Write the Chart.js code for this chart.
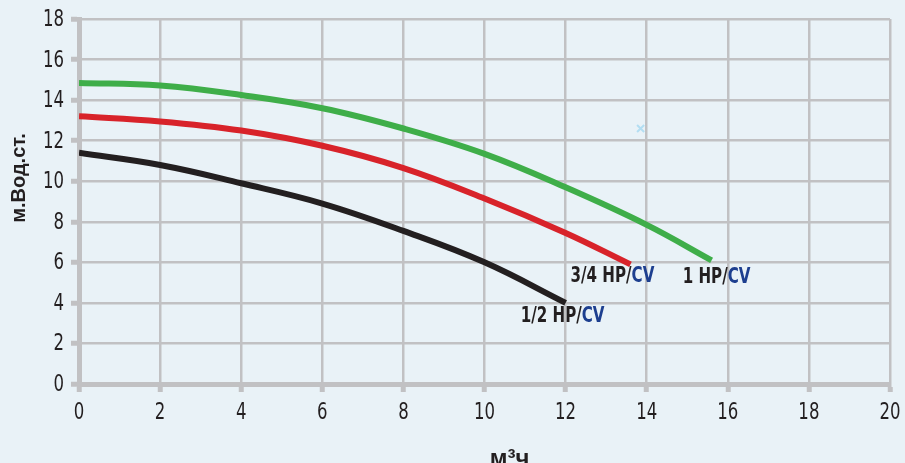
<!DOCTYPE html>
<html>
<head>
<meta charset="utf-8">
<script src="https://cdn.jsdelivr.net/npm/chart.js@4/dist/chart.umd.min.js"></script>
<style>
  html, body { margin: 0; padding: 0; background: #e9f2f7; }
  #wrap { width: 905px; height: 463px; }
</style>
</head>
<body>
<div id="wrap"><canvas id="pumpChart"></canvas></div>
<script>
// Pump curves: flow (m3/h) vs head (m water column)
const flowGreen = [0, 2, 4, 6, 8, 10, 12, 14, 15.6];
const headGreen = [14.85, 14.72, 14.25, 13.6, 12.6, 11.35, 9.7, 7.85, 6.1];

const flowRed = [0, 2, 4, 6, 8, 10, 12, 13.6];
const headRed = [13.2, 12.95, 12.5, 11.75, 10.65, 9.15, 7.45, 5.9];

const flowBlack = [0, 2, 4, 6, 8, 10, 12];
const headBlack = [11.4, 10.8, 9.9, 8.9, 7.55, 6.0, 4.0];

const markerPoint = [{ x: 13.85, y: 12.6 }];

const curveNames = ['1 HP/', '3/4 HP/', '1/2 HP/'];
const curveSuffix = 'CV';

const xTicks = [0, 2, 4, 6, 8, 10, 12, 14, 16, 18, 20];
const yTicks = [0, 2, 4, 6, 8, 10, 12, 14, 16, 18];

const xTitle = 'м³ч';
const yTitle = 'м.Вод.ст.';

const narrowFont = "'DejaVu Sans', sans-serif";
const gridGray = '#c1c1c3';
const textDark = '#231f20';
const squeeze = 0.72; // fake a condensed face

function toPoints(xs, ys) {
    return xs.map((x, i) => ({ x: x, y: ys[i] }));
}

function narrowText(ctx, text, x, y, align) {
    const w = ctx.measureText(text).width * squeeze;
    let left = x;
    if (align === 'center') left = x - w / 2;
    if (align === 'right') left = x - w;
    ctx.save();
    ctx.translate(left, y);
    ctx.scale(squeeze, 1);
    ctx.textAlign = 'left';
    ctx.fillText(text, 0, 0);
    ctx.restore();
    return w;
}

// tick labels, axis titles and the "x HP/CV" labels
const chartText = {
    id: 'chartText',
    afterDraw(chart) {
        const ctx = chart.ctx;
        const xs = chart.scales.x;
        const ys = chart.scales.y;
        const area = chart.chartArea;
        ctx.save();
        ctx.fillStyle = textDark;
        ctx.textBaseline = 'middle';
        ctx.font = '23px ' + narrowFont;
        xTicks.forEach(v => narrowText(ctx, String(v), xs.getPixelForValue(v), 413, 'center'));
        yTicks.forEach(v => narrowText(ctx, String(v), 64, ys.getPixelForValue(v) + 1, 'right'));

        // axis titles
        ctx.font = "bold 20px 'Liberation Sans', Arial, sans-serif";
        ctx.save();
        ctx.translate(19, 178);
        ctx.rotate(-Math.PI / 2);
        ctx.textAlign = 'center';
        ctx.fillText(yTitle, 0, 0);
        ctx.restore();
        ctx.font = "bold 24px 'Liberation Sans', Arial, sans-serif";
        ctx.textAlign = 'center';
        ctx.textBaseline = 'alphabetic';
        ctx.fillText(xTitle, (area.left + area.right) / 2 + 25, 466);

        // curve labels below each curve end
        const offsets = [[5, 17], [-18, 12], [-3, 14]];
        ctx.font = 'bold 21px ' + narrowFont;
        ctx.textBaseline = 'middle';
        for (let i = 0; i < 3; i++) {
            const data = chart.data.datasets[i].data;
            const last = data[data.length - 1];
            const px = xs.getPixelForValue(last.x) + offsets[i][0];
            const py = ys.getPixelForValue(last.y) + offsets[i][1];
            const w1 = ctx.measureText(curveNames[i]).width * squeeze;
            const w2 = ctx.measureText(curveSuffix).width * squeeze;
            const startX = px - (w1 + w2) / 2;
            ctx.fillStyle = textDark;
            narrowText(ctx, curveNames[i], startX, py, 'left');
            ctx.fillStyle = '#1d3f8f';
            narrowText(ctx, curveSuffix, startX + w1, py, 'left');
        }
        ctx.restore();
    }
};

const curveStyle = {
    borderWidth: 6,
    pointRadius: 0,
    tension: 0.4,
    fill: false
};

const config = {
    type: 'line',
    data: {
        datasets: [
            Object.assign({ label: '1 HP/CV', data: toPoints(flowGreen, headGreen), borderColor: '#3fae49' }, curveStyle),
            Object.assign({ label: '3/4 HP/CV', data: toPoints(flowRed, headRed), borderColor: '#d8232a' }, curveStyle),
            Object.assign({ label: '1/2 HP/CV', data: toPoints(flowBlack, headBlack), borderColor: '#231f20' }, curveStyle),
            {
                type: 'scatter',
                label: 'marker',
                data: markerPoint,
                pointStyle: 'crossRot',
                pointRadius: 5,
                borderWidth: 2,
                borderColor: '#b3def2',
                showLine: false
            }
        ]
    },
    options: {
        responsive: true,
        maintainAspectRatio: false,
        animation: false,
        layout: {
            padding: { top: 19, right: 15, left: 0, bottom: 0 }
        },
        plugins: {
            legend: { display: false },
            tooltip: { enabled: false }
        },
        scales: {
            x: {
                type: 'linear',
                min: 0,
                max: 20,
                afterBuildTicks: axis => { axis.ticks = xTicks.map(v => ({ value: v })); },
                afterFit: axis => { axis.height = 79; },
                grid: {
                    color: gridGray,
                    lineWidth: 2.5,
                    tickColor: gridGray,
                    tickLength: 8,
                    tickWidth: 5
                },
                border: { color: gridGray, width: 5 },
                ticks: { display: false }
            },
            y: {
                type: 'linear',
                min: 0,
                max: 18,
                afterBuildTicks: axis => { axis.ticks = yTicks.map(v => ({ value: v })); },
                afterFit: axis => { axis.width = 79; },
                grid: {
                    color: gridGray,
                    lineWidth: 2.5,
                    tickColor: gridGray,
                    tickLength: 8,
                    tickWidth: 5
                },
                border: { color: gridGray, width: 5 },
                ticks: { display: false }
            }
        }
    },
    plugins: [chartText]
};

const ctx = document.getElementById('pumpChart').getContext('2d');
const pumpChart = new Chart(ctx, config);
</script>
</body>
</html>
